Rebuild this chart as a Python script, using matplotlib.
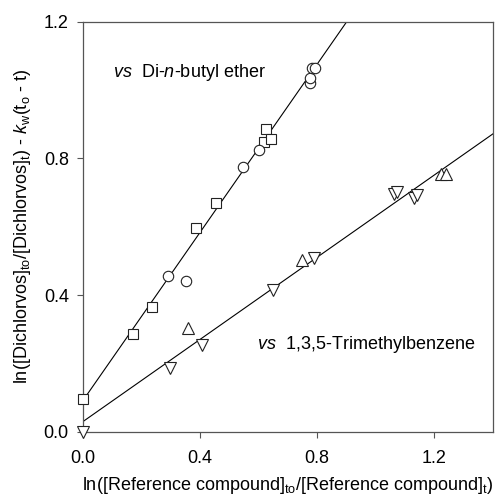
import numpy as np
import matplotlib
matplotlib.use("Agg")
import matplotlib.pyplot as plt

plt.rcParams["font.family"] = ["Liberation Sans", "DejaVu Sans"]
plt.rcParams["mathtext.fontset"] = "custom"
plt.rcParams["mathtext.rm"] = "Liberation Sans"
plt.rcParams["mathtext.it"] = "Liberation Sans:italic"

# vs Di-n-butyl ether
sq_x = [0.0, 0.173, 0.236, 0.386, 0.454, 0.618, 0.624, 0.644]
sq_y = [0.097, 0.287, 0.365, 0.596, 0.669, 0.848, 0.886, 0.858]
ci_x = [0.292, 0.352, 0.548, 0.602, 0.774, 0.775, 0.782, 0.791]
ci_y = [0.457, 0.442, 0.775, 0.823, 1.021, 1.036, 1.065, 1.063]

# vs 1,3,5-Trimethylbenzene
up_x = [0.361, 0.750, 1.221, 1.239]
up_y = [0.303, 0.502, 0.755, 0.755]
dn_x = [0.0, 0.297, 0.406, 0.651, 0.788, 1.061, 1.072, 1.129, 1.141]
dn_y = [0.0, 0.185, 0.255, 0.414, 0.508, 0.695, 0.702, 0.683, 0.692]

# fitted lines (intercept, slope)
fit1 = (0.09, 1.232)
fit2 = (0.029, 0.602)

fig = plt.figure(figsize=(4.95, 4.97), dpi=100)
ax = fig.add_axes([0.167, 0.1314, 0.829, 0.825])

xs = np.array([0.0, 1.4])
ax.plot(xs, fit1[0] + fit1[1] * xs, color="black", lw=0.8)
ax.plot(xs, fit2[0] + fit2[1] * xs, color="black", lw=0.8)

mk = dict(linestyle="none", markerfacecolor="white", markeredgecolor="#222222",
          markeredgewidth=0.8, clip_on=False, zorder=3)
ax.plot(sq_x, sq_y, marker="s", markersize=6.7, **mk)
ax.plot(ci_x, ci_y, marker="o", markersize=7.5, **mk)
ax.plot(up_x, up_y, marker="^", markersize=8.5, **mk)
ax.plot(dn_x, dn_y, marker="v", markersize=8.5, **mk)

ax.set_xlim(0, 1.4)
ax.set_ylim(0, 1.2)
ax.set_xticks([0.0, 0.4, 0.8, 1.2])
ax.set_yticks([0.0, 0.4, 0.8, 1.2])
ax.xaxis.set_major_formatter(matplotlib.ticker.FormatStrFormatter("%.1f"))
ax.yaxis.set_major_formatter(matplotlib.ticker.FormatStrFormatter("%.1f"))
ax.tick_params(direction="out", length=4, width=0.8, labelsize=13, color="#555555")
ax.tick_params(axis="x", pad=9)
ax.tick_params(axis="y", pad=6)
for s in ax.spines.values():
    s.set_color("#555555")
    s.set_linewidth(0.9)

ax.text(0.103, 1.05, r"$\it{vs}$  Di-$\it{n}$-butyl ether", fontsize=13, va="center")
ax.text(0.594, 0.254, r"$\it{vs}$  1,3,5-Trimethylbenzene", fontsize=13, va="center")

ax.set_xlabel(r"ln([Reference compound]$_{\mathrm{to}}$/[Reference compound]$_{\mathrm{t}}$)",
              fontsize=13, labelpad=6)
ax.set_ylabel(r"ln([Dichlorvos]$_{\mathrm{to}}$/[Dichlorvos]$_{\mathrm{t}}$) - $k_{\mathrm{w}}$(t$_{\mathrm{o}}$ - t)",
              fontsize=13, labelpad=8)

fig.savefig("out.png", dpi=100)
